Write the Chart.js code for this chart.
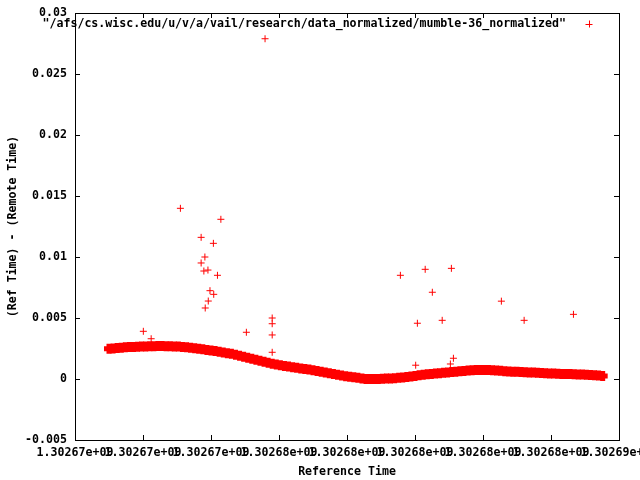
<!DOCTYPE html>
<html>
<head>
<meta charset="utf-8">
<script src="https://cdn.jsdelivr.net/npm/chart.js@4/dist/chart.umd.min.js"></script>
<style>
  html, body { margin: 0; padding: 0; background: #fff; }
  canvas { display: block; }
</style>
</head>
<body>
<canvas id="chart" width="640" height="480"></canvas>
<script>
// x values are seconds after T0
const T0 = 1302670000;
const seriesName = '"/afs/cs.wisc.edu/u/v/a/vail/research/data_normalized/mumble-36_normalized"';
const xTitle = "Reference Time";
const yTitle = "(Ref Time) - (Remote Time)";

const xTickValues = [0, 2000, 4000, 6000, 8000, 10000, 12000, 14000, 16000];
const xTickLabels = ["1.30267e+09", "1.30267e+09", "1.30267e+09", "1.30268e+09", "1.30268e+09",
                     "1.30268e+09", "1.30268e+09", "1.30268e+09", "1.30269e+09"];
const yTickValues = [-0.005, 0, 0.005, 0.01, 0.015, 0.02, 0.025, 0.03];
const yTickLabels = ["-0.005", "0", "0.005", "0.01", "0.015", "0.02", "0.025", "0.03"];

// the dense band of samples
const bandTimes = [
  1000,1120,1240,1360,1480,1600,1720,1840,1960,2080,
  2200,2320,2440,2560,2680,2800,2920,3040,3160,3280,
  3400,3520,3640,3760,3880,4000,4120,4240,4360,4480,
  4600,4720,4840,4960,5080,5200,5320,5440,5560,5680,
  5800,5920,6040,6160,6280,6400,6520,6640,6760,6880,
  7000,7120,7240,7360,7480,7600,7720,7840,7960,8080,
  8200,8320,8440,8560,8680,8800,8920,9040,9160,9280,
  9400,9520,9640,9760,9880,10000,10120,10240,10360,10480,
  10600,10720,10840,10960,11080,11200,11320,11440,11560,11680,
  11800,11920,12040,12160,12280,12400,12520,12640,12760,12880,
  13000,13120,13240,13360,13480,13600,13720,13840,13960,14080,
  14200,14320,14440,14560,14680,14800,14920,15040,15160,15280,
  15400,15520
];
const bandValues = [
  0.00247,0.00251,0.00254,0.00257,0.00260,0.00262,0.00263,0.00265,0.00266,0.00267,
  0.00268,0.00269,0.00270,0.00270,0.00269,0.00268,0.00267,0.00266,0.00263,0.00260,
  0.00256,0.00252,0.00248,0.00243,0.00238,0.00234,0.00229,0.00224,0.00218,0.00212,
  0.00206,0.00198,0.00190,0.00182,0.00174,0.00166,0.00158,0.00150,0.00142,0.00134,
  0.00126,0.00119,0.00113,0.00107,0.00102,0.00097,0.00092,0.00087,0.00082,0.00077,
  0.00072,0.00066,0.00060,0.00054,0.00048,0.00041,0.00034,0.00028,0.00023,0.00019,
  0.00015,0.00010,0.00005,0.00001,0.00000,0.00000,0.00001,0.00002,0.00004,0.00005,
  0.00007,0.00010,0.00013,0.00017,0.00021,0.00025,0.00030,0.00034,0.00038,0.00042,
  0.00045,0.00048,0.00051,0.00054,0.00057,0.00060,0.00063,0.00066,0.00069,0.00071,
  0.00073,0.00074,0.00074,0.00073,0.00071,0.00069,0.00067,0.00064,0.00062,0.00060,
  0.00059,0.00057,0.00056,0.00054,0.00053,0.00051,0.00050,0.00048,0.00046,0.00045,
  0.00043,0.00042,0.00041,0.00040,0.00038,0.00037,0.00036,0.00034,0.00032,0.00030,
  0.00028,0.00025
];

// scattered samples off the band
const outlierTimes = [
  5590, 3100, 4290, 3710, 4070, 3820, 3710, 3790, 3910, 4190, 3970,
  4080, 3920, 3830, 2010, 2240, 5040, 5800, 5800, 5800, 5800,
  9570, 10300, 11070, 10510, 10070, 10800, 12540, 13210, 14660, 10020, 11040, 11130
];
const outlierValues = [
  0.02789, 0.01399, 0.01309, 0.01161, 0.01112, 0.0100, 0.00951, 0.00885, 0.00893, 0.0085, 0.00724,
  0.00694, 0.00639, 0.00582, 0.00391, 0.0033, 0.00383, 0.0050, 0.00453, 0.00361, 0.00219,
  0.0085, 0.00899, 0.00907, 0.00711, 0.00457, 0.00481, 0.00638, 0.00481, 0.0053, 0.00113, 0.00123, 0.0017
];

const RED = "#ff0000";
const FONT = { family: '"DejaVu Sans Mono", monospace', size: 11.6, weight: "bold" };
const TICK = 5;

Chart.defaults.font = FONT;
Chart.defaults.color = "#000";

const bandPoints = bandTimes.map((t, i) => ({ x: t, y: bandValues[i] }));
const outlierPoints = outlierTimes.map((t, i) => ({ x: t, y: outlierValues[i] }));

// gnuplot style border with inward ticks on all four sides, plus key in the top right
const gnuplotFrame = {
  id: "gnuplotFrame",
  afterDatasetsDraw(chart) {
    const { ctx, chartArea: a, scales: { x, y } } = chart;
    ctx.save();
    ctx.strokeStyle = "#000";
    ctx.lineWidth = 1;
    ctx.beginPath();
    x.ticks.forEach(t => {
      const px = Math.round(x.getPixelForValue(t.value)) + 0.5;
      ctx.moveTo(px, a.bottom); ctx.lineTo(px, a.bottom - TICK);
      ctx.moveTo(px, a.top); ctx.lineTo(px, a.top + TICK);
    });
    y.ticks.forEach(t => {
      const py = Math.round(y.getPixelForValue(t.value)) + 0.5;
      ctx.moveTo(a.left, py); ctx.lineTo(a.left + TICK, py);
      ctx.moveTo(a.right, py); ctx.lineTo(a.right - TICK, py);
    });
    ctx.stroke();
    ctx.strokeRect(a.left + 0.5, a.top + 0.5, a.right - a.left, a.bottom - a.top);

    // key
    const ky = a.top + 11;
    ctx.font = `${FONT.weight} ${FONT.size}px ${FONT.family}`;
    ctx.fillStyle = "#000";
    ctx.textAlign = "right";
    ctx.textBaseline = "middle";
    ctx.fillText(seriesName, a.right - 53, ky);
    const kx = a.right - 30;
    ctx.strokeStyle = RED;
    ctx.beginPath();
    ctx.moveTo(kx - 3.5, ky + 0.5); ctx.lineTo(kx + 3.5, ky + 0.5);
    ctx.moveTo(kx + 0.5, ky - 3.5); ctx.lineTo(kx + 0.5, ky + 3.5);
    ctx.stroke();
    ctx.restore();
  }
};

new Chart(document.getElementById("chart"), {
  type: "scatter",
  data: {
    datasets: [
      {
        label: seriesName,
        data: bandPoints,
        pointStyle: "cross",
        pointRadius: 5,
        borderWidth: 5,
        borderColor: RED,
        backgroundColor: RED
      },
      {
        label: seriesName,
        data: outlierPoints,
        pointStyle: "cross",
        pointRadius: 3.5,
        borderWidth: 1,
        borderColor: RED,
        backgroundColor: RED
      }
    ]
  },
  options: {
    responsive: false,
    animation: false,
    events: [],
    layout: { padding: { left: 0, right: 21, top: 13, bottom: 0 } },
    plugins: {
      legend: { display: false },
      tooltip: { enabled: false }
    },
    scales: {
      x: {
        type: "linear",
        min: xTickValues[0],
        max: xTickValues[xTickValues.length - 1],
        grid: { display: false, drawTicks: false },
        border: { display: false },
        ticks: {
          autoSkip: false,
          maxRotation: 0,
          minRotation: 0,
          padding: 6,
          callback: (v, i) => xTickLabels[i]
        },
        title: { display: true, text: xTitle, padding: { top: 0, bottom: 1 } },
        afterBuildTicks: s => { s.ticks = xTickValues.map(v => ({ value: v })); },
        afterFit: s => { s.height = 40; s.paddingLeft = 0; s.paddingRight = 0; }
      },
      y: {
        type: "linear",
        min: yTickValues[0],
        max: yTickValues[yTickValues.length - 1],
        grid: { display: false, drawTicks: false },
        border: { display: false },
        ticks: {
          padding: 8,
          callback: (v, i) => yTickLabels[i]
        },
        title: { display: true, text: yTitle, padding: { top: 6, bottom: 0 } },
        afterBuildTicks: s => { s.ticks = yTickValues.map(v => ({ value: v })); },
        afterFit: s => { s.width = 75; s.paddingTop = 0; s.paddingBottom = 0; }
      }
    }
  },
  plugins: [gnuplotFrame]
});
</script>
</body>
</html>
